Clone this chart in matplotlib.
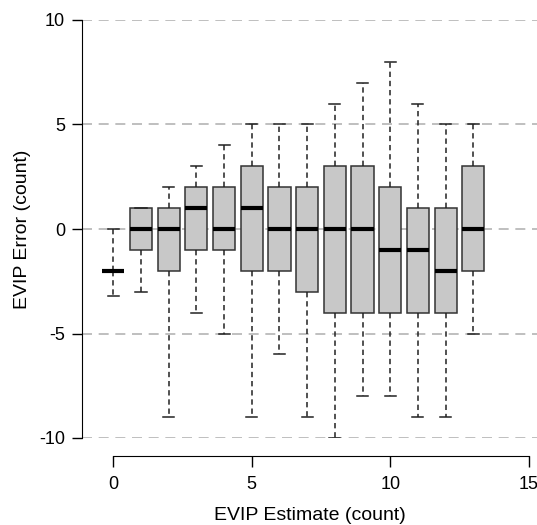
import matplotlib
matplotlib.use("Agg")
import matplotlib.pyplot as plt

plt.rcParams['font.family'] = ['Liberation Sans', 'DejaVu Sans']

# EVIP estimate (count) and error summaries
estimates = [0, 1, 2, 3, 4, 5, 6, 7, 8, 9, 10, 11, 12, 13]
whisker_low = [-3.2, -3, -9, -4, -5, -9, -6, -9, -10, -8, -8, -9, -9, -5]
q1 = [-2, -1, -2, -1, -1, -2, -2, -3, -4, -4, -4, -4, -4, -2]
medians = [-2, 0, 0, 1, 0, 1, 0, 0, 0, 0, -1, -1, -2, 0]
q3 = [-2, 1, 1, 2, 2, 3, 2, 2, 3, 3, 2, 1, 1, 3]
whisker_high = [0, 1, 2, 3, 4, 5, 5, 5, 6, 7, 8, 6, 5, 5]

y_ticks = [-10, -5, 0, 5, 10]
x_ticks = [0, 5, 10, 15]

stats = []
for i in range(len(estimates)):
    stats.append({'whislo': whisker_low[i], 'q1': q1[i], 'med': medians[i],
                  'q3': q3[i], 'whishi': whisker_high[i], 'fliers': []})

fig = plt.figure(figsize=(5.37, 5.25), dpi=100)
ax = fig.add_axes([82 / 537, 1 - 438 / 525, 1 - 82 / 537, 418 / 525])

for y in y_ticks:
    ax.axhline(y, color='#b4b4b4', lw=1.2, ls=(0, (6, 4)), zorder=0)

ax.bxp(stats, positions=estimates, widths=0.8, patch_artist=True,
       boxprops=dict(facecolor='#c8c8c8', edgecolor='#333333', lw=1.1),
       medianprops=dict(color='black', lw=3, solid_capstyle='butt'),
       whiskerprops=dict(color='#222222', lw=1.1, ls=(0, (3.5, 2.5))),
       capprops=dict(color='#222222', lw=1.1),
       capwidths=0.4, showfliers=False, manage_ticks=False, zorder=2)

ax.set_xlim(-1.13, 15.3)
ax.set_ylim(-10, 10)
for side in ['top', 'right']:
    ax.spines[side].set_visible(False)
ax.spines['left'].set_bounds(-10, 10)
ax.spines['bottom'].set_position(('outward', 12.7))
ax.spines['bottom'].set_bounds(0, 15)

ax.set_yticks(y_ticks)
ax.set_yticklabels([str(v) for v in y_ticks])
ax.set_xticks(x_ticks)
ax.tick_params(axis='y', length=7.2, width=1, labelsize=13, pad=5)
ax.tick_params(axis='x', length=7.9, width=1, labelsize=13, pad=7)

ax.set_xlabel('EVIP Estimate (count)', fontsize=14, labelpad=10)
ax.set_ylabel('EVIP Error (count)', fontsize=14, labelpad=6)

fig.savefig('out.png', dpi=100)
